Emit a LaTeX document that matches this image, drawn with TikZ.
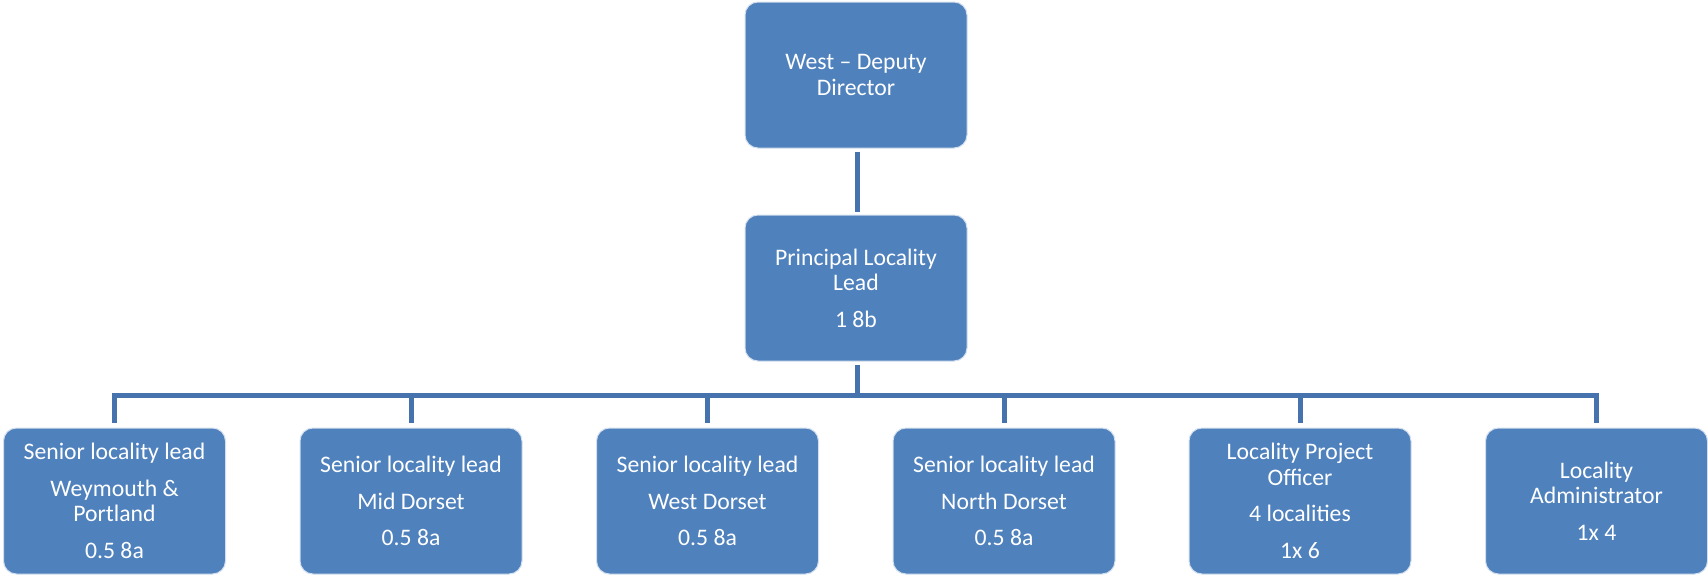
\documentclass[tikz,border=0pt]{standalone}
\usepackage{fontspec}
\setmainfont{Carlito}
\begin{document}
\begin{tikzpicture}[x=1pt,y=-1pt,
  orgbox/.style={draw=white!75!orgblue, line width=1pt, fill=orgblue, rounded corners=13pt,
    minimum width=222pt, minimum height=146pt, inner sep=0pt, text=white, align=center,
    font=\fontsize{23.7}{25.5}\selectfont},
  conn/.style={draw=connblue, line width=5pt, line join=miter}]
\definecolor{orgblue}{HTML}{4F81BD}
\definecolor{connblue}{HTML}{4673AE}
\useasboundingbox (0,0) rectangle (1708,576);
% top two levels
\node[orgbox] (dd) at (856,75) {West -- Deputy\\Director};
\node[orgbox] (pl) at (856,288) {Principal Locality\\Lead\\[11pt]1 8b};
% locality staff
\node[orgbox] (s1) at (114.5,501) {Senior locality lead\\[11pt]Weymouth \&\\Portland\\[11pt]0.5 8a};
\node[orgbox] (s2) at (411,501) {Senior locality lead\\[11pt]Mid Dorset\\[11pt]0.5 8a};
\node[orgbox] (s3) at (707.5,501) {Senior locality lead\\[11pt]West Dorset\\[11pt]0.5 8a};
\node[orgbox] (s4) at (1004,501) {Senior locality lead\\[11pt]North Dorset\\[11pt]0.5 8a};
\node[orgbox] (po) at (1300,501) {Locality Project\\Officer\\[11pt]4 localities\\[11pt]1x 6};
\node[orgbox] (ad) at (1596.5,501) {Locality\\Administrator\\[11pt]1x 4};
% reporting lines
\coordinate (bar) at (857,395);
\draw[conn, shorten <=3pt, shorten >=3pt] (dd.south -| bar) -- (pl.north -| bar);
\draw[conn, shorten <=3pt] (pl.south -| bar) -- (bar);
\foreach \c in {s1,s2,s3,s4,po,ad}
  \draw[conn, shorten <=5pt] (\c.north) |- (bar);
\end{tikzpicture}
\end{document}
